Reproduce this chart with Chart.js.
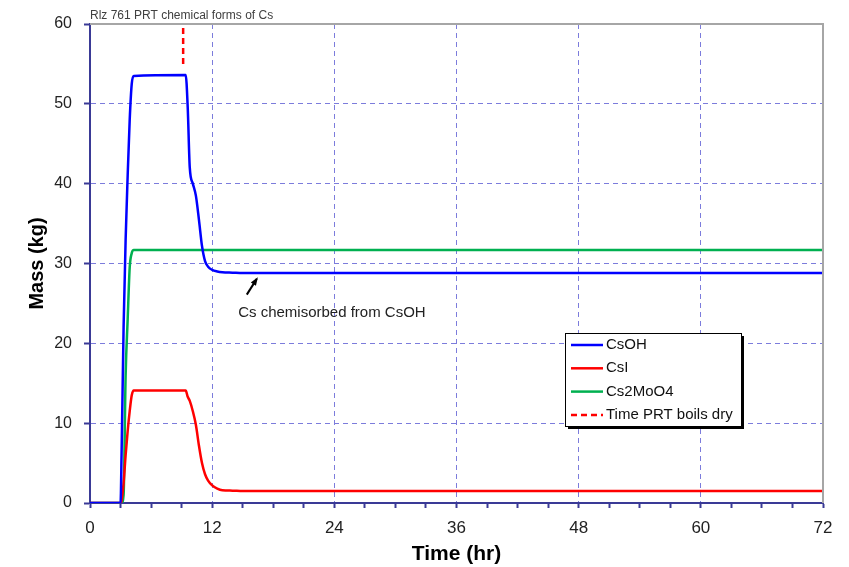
<!DOCTYPE html>
<html>
<head>
<meta charset="utf-8">
<script src="https://cdn.jsdelivr.net/npm/chart.js@4"></script>
<style>
  html, body { margin: 0; padding: 0; background: #fff; }
  #wrap { width: 849px; height: 567px; }
</style>
</head>
<body>
<div id="wrap"><canvas id="massChart" width="849" height="567"></canvas></div>
<script>
// Time grid (hr) shared by the three species
const timeHr = [0, 3.0, 3.1, 3.3, 3.5, 3.7, 3.9, 4.1, 4.3, 9.4, 9.6, 9.8, 10.1, 10.4, 10.7, 11.0, 11.3, 11.6, 12.0, 12.5, 13.0, 14.0, 15.0, 16.0, 72];
const csohMass = [0, 0, 6, 22, 33, 41, 48, 52.5, 53.5, 53.6, 49.5, 42, 40, 38.5, 35.5, 32.2, 30.3, 29.6, 29.2, 29.0, 28.9, 28.85, 28.8, 28.8, 28.8];
const csiMass = [0, 0, 0.3, 2.5, 6, 9, 11.5, 13.5, 14.1, 14.1, 13.3, 12.8, 11.5, 9.8, 7.2, 5.0, 3.6, 2.8, 2.2, 1.8, 1.6, 1.55, 1.5, 1.5, 1.5];
const cs2moo4Mass = [0, 0, 0, 1, 16, 23, 29.5, 31.3, 31.7, 31.7, 31.7, 31.7, 31.7, 31.7, 31.7, 31.7, 31.7, 31.7, 31.7, 31.7, 31.7, 31.7, 31.7, 31.7, 31.7];

// Time PRT boils dry marker
const boilTime = [9.15, 9.15];
const boilMass = [55, 60];

const seriesLabels = ["CsOH", "CsI", "Cs2MoO4", "Time PRT boils dry"];
const xTicks = [0, 12, 24, 36, 48, 60, 72];

const toPts = (xs, ys) => xs.map((x, i) => ({ x: x, y: ys[i] }));

const axisColor = "#3a3a96";
const gridColor = "#7c7cdc";

// cadre gris, titre, annotation et légende
const extras = {
  id: "extras",
  afterDraw(chart) {
    const { ctx, chartArea: a, scales } = chart;
    const xs = scales.x, ys = scales.y;
    ctx.save();
    // top / right border
    ctx.strokeStyle = "#a6a6a6";
    ctx.lineWidth = 2;
    ctx.beginPath();
    ctx.moveTo(a.left, a.top);
    ctx.lineTo(a.right, a.top);
    ctx.lineTo(a.right, a.bottom);
    ctx.stroke();

    // title
    ctx.fillStyle = "#404040";
    ctx.font = "12px 'Liberation Sans', Arial, sans-serif";
    ctx.textBaseline = "alphabetic";
    ctx.textAlign = "left";
    ctx.fillText("Rlz 761 PRT chemical forms of Cs", 90, 19);

    // annotation arrow + text
    const tx = xs.getPixelForValue(15.4), ty = ys.getPixelForValue(26.1);
    const hx = xs.getPixelForValue(16.38), hy = ys.getPixelForValue(28.07);
    ctx.strokeStyle = "#000";
    ctx.fillStyle = "#000";
    ctx.lineWidth = 2;
    ctx.beginPath();
    ctx.moveTo(tx, ty);
    ctx.lineTo(hx, hy);
    ctx.stroke();
    const ang = Math.atan2(hy - ty, hx - tx);
    ctx.beginPath();
    ctx.moveTo(hx + 2 * Math.cos(ang), hy + 2 * Math.sin(ang));
    ctx.lineTo(hx - 7 * Math.cos(ang - 0.45), hy - 7 * Math.sin(ang - 0.45));
    ctx.lineTo(hx - 7 * Math.cos(ang + 0.45), hy - 7 * Math.sin(ang + 0.45));
    ctx.closePath();
    ctx.fill();
    ctx.font = "15px 'Liberation Sans', Arial, sans-serif";
    ctx.fillStyle = "#222";
    ctx.textBaseline = "middle";
    ctx.fillText("Cs chemisorbed from CsOH", xs.getPixelForValue(14.55), ys.getPixelForValue(23.8));

    // legend box
    const lx = 565, ly = 333, lw = 176, lh = 93;
    ctx.fillStyle = "#000";
    ctx.fillRect(lx + 3, ly + 3, lw, lh);
    ctx.fillStyle = "#fff";
    ctx.fillRect(lx, ly, lw, lh);
    ctx.strokeStyle = "#000";
    ctx.lineWidth = 1;
    ctx.strokeRect(lx + 0.5, ly + 0.5, lw, lh);
    ctx.font = "15px 'Liberation Sans', Arial, sans-serif";
    ctx.textBaseline = "middle";
    chart.data.datasets.forEach((ds, i) => {
      const yy = ly + 12 + i * 23.3;
      ctx.strokeStyle = ds.borderColor;
      ctx.lineWidth = 2.5;
      ctx.setLineDash(ds.borderDash || []);
      ctx.beginPath();
      ctx.moveTo(lx + 6, yy);
      ctx.lineTo(lx + 38, yy);
      ctx.stroke();
      ctx.setLineDash([]);
      ctx.fillStyle = "#111";
      ctx.fillText(ds.label, lx + 41, yy);
    });
    ctx.restore();
  }
};

const ctx = document.getElementById("massChart").getContext("2d");
const myChart = new Chart(ctx, {
  type: "line",
  data: {
    datasets: [
      {
        label: seriesLabels[0],
        data: toPts(timeHr, csohMass),
        borderColor: "#0000ff",
        borderWidth: 2.5,
        pointRadius: 0,
        cubicInterpolationMode: "monotone",
      },
      {
        label: seriesLabels[1],
        data: toPts(timeHr, csiMass),
        borderColor: "#ff0000",
        borderWidth: 2.5,
        pointRadius: 0,
        cubicInterpolationMode: "monotone",
      },
      {
        label: seriesLabels[2],
        data: toPts(timeHr, cs2moo4Mass),
        borderColor: "#00b050",
        borderWidth: 2.5,
        pointRadius: 0,
        cubicInterpolationMode: "monotone",
      },
      {
        label: seriesLabels[3],
        data: toPts(boilTime, boilMass),
        borderColor: "#ff0000",
        borderWidth: 2.5,
        borderDash: [6, 4],
        pointRadius: 0,
      },
    ],
  },
  options: {
    responsive: false,
    animation: false,
    layout: { padding: { top: 24, right: 26, left: 0, bottom: 0 } },
    scales: {
      x: {
        type: "linear",
        min: 0,
        max: 72,
        afterFit: (s) => { s.height = 64; },
        afterBuildTicks: (s) => {
          const t = [];
          for (let v = 0; v <= 72; v += 3) t.push({ value: v });
          s.ticks = t;
        },
        ticks: {
          autoSkip: false,
          maxRotation: 0,
          padding: 10,
          color: "#222",
          font: { family: "'Liberation Sans Narrow', 'Liberation Sans', sans-serif", size: 17 },
          callback: (v) => (xTicks.includes(v) ? String(v) : ""),
        },
        grid: {
          color: (c) => (c.tick && c.tick.value % 12 === 0 && c.tick.value > 0 && c.tick.value < 72 ? gridColor : "rgba(0,0,0,0)"),
          tickColor: axisColor,
          tickLength: 5,
          lineWidth: 1,
          tickWidth: 2,
        },
        border: { display: true, color: axisColor, width: 2, dash: [5, 4] },
        title: {
          display: true,
          text: "Time (hr)",
          color: "#000",
          padding: { top: -2, bottom: 0 },
          font: { family: "'Liberation Sans Narrow', 'Liberation Sans', sans-serif", size: 21, weight: "bold" },
        },
      },
      y: {
        min: 0,
        max: 60,
        afterFit: (s) => { s.width = 90; },
        ticks: {
          stepSize: 10,
          padding: 12,
          color: "#222",
          font: { family: "'Liberation Sans', sans-serif", size: 16 },
        },
        grid: {
          color: (c) => (c.tick && c.tick.value > 0 && c.tick.value < 60 ? gridColor : "rgba(0,0,0,0)"),
          tickColor: axisColor,
          tickLength: 6,
          lineWidth: 1,
          tickWidth: 2,
        },
        border: { display: true, color: axisColor, width: 2, dash: [5, 4] },
        title: {
          display: true,
          text: "Mass (kg)",
          color: "#000",
          padding: { top: 25, bottom: 0 },
          font: { family: "'Liberation Sans Narrow', 'Liberation Sans', sans-serif", size: 20, weight: "bold" },
        },
      },
    },
    plugins: {
      legend: { display: false },
      tooltip: { enabled: false },
    },
  },
  plugins: [extras],
});
</script>
</body>
</html>
